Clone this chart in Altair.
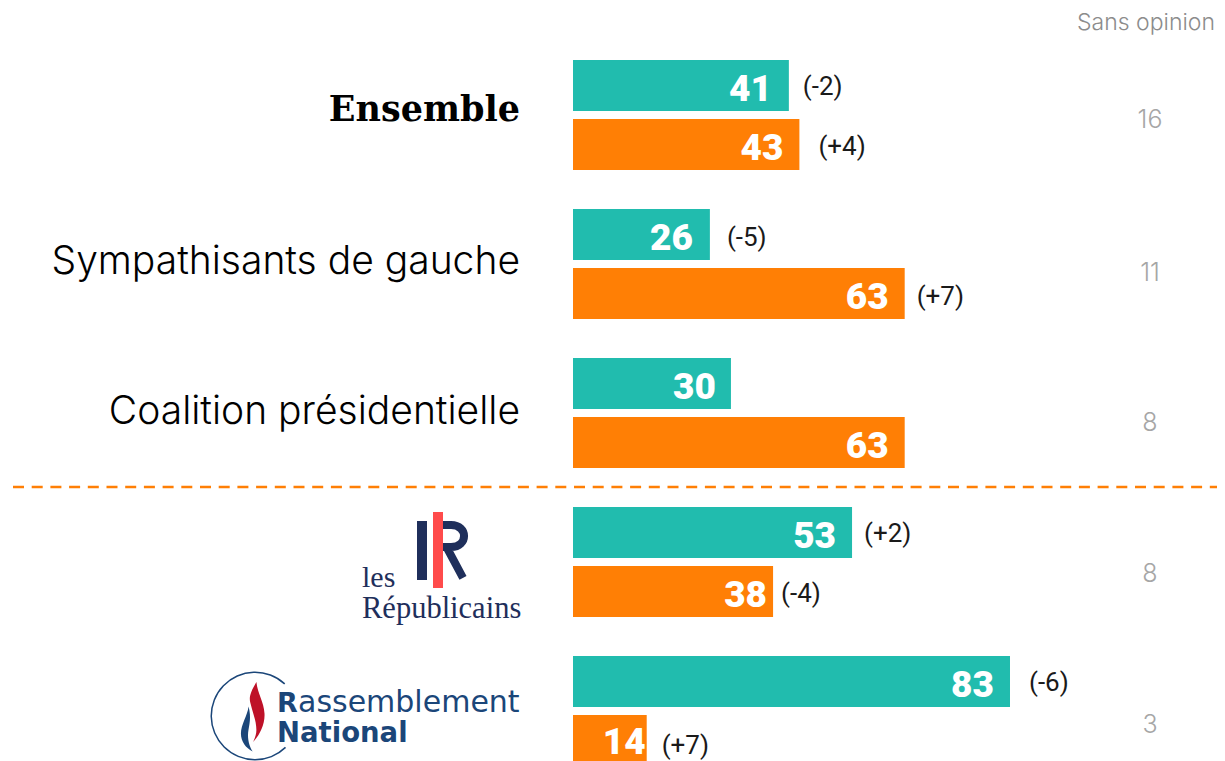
import altair as alt
import pandas as pd

groups = ["Ensemble", "Sympathisants de gauche", "Coalition présidentielle", "Les Républicains", "Rassemblement National"]
series_a = [41, 26, 30, 53, 83]
series_b = [43, 63, 63, 38, 14]
delta_a = ["(-2)", "(-5)", "", "(+2)", "(-6)"]
delta_b = ["(+4)", "(+7)", "", "(-4)", "(+7)"]
sans_opinion = [16, 11, 8, 8, 3]
series_names = ["A", "B"]

# Layout: hand offsets per label (pixels), separate from the data
value_dx = {"A": [-17, -17, -15, -16, -16], "B": [-16, -16, -16, -6, -1]}
value_dy = {"A": [4, 4, 4, 4, 4], "B": [4, 4, 4, 4, 2]}
delta_dx = {"A": [14, 17, 0, 12, 19], "B": [19, 12, 0, 8, 15]}
delta_dy = {"A": [1, 3, 0, 1, 1], "B": [2, 3, 0, 2, 5]}
sans_dy = [5, 9, 10, 12, 14]
label_dy = [-5, -2, -1]

TEAL, ORANGE = "#21BCAE", "#FF7F05"
W, H = 1209, 753
PX = 5.265
x0 = -565 / PX
xscale = alt.Scale(domain=[x0, x0 + W / PX], zero=False, nice=False)
yscale = alt.Scale(domain=groups, range=[32.5, 777.5], paddingInner=0, paddingOuter=0)
offscale = alt.Scale(domain=series_names, paddingInner=8 / 59, paddingOuter=19.5 / 59)

rows = []
for i, g in enumerate(groups):
    for s, vals, dl in (("A", series_a, delta_a), ("B", series_b, delta_b)):
        rows.append(dict(group=g, idx=i, serie=s, value=vals[i], delta=dl[i], so=sans_opinion[i]))
df = pd.DataFrame(rows)

X = alt.X("value:Q", scale=xscale, axis=None)
Y = alt.Y("group:N", scale=yscale, axis=None, sort=groups)
YO = alt.YOffset("serie:N", scale=offscale, sort=series_names)

layers = []
layers.append(
    alt.Chart(df).mark_bar().encode(
        x=X, y=Y, yOffset=YO,
        color=alt.Color("serie:N", scale=alt.Scale(domain=series_names, range=[TEAL, ORANGE]), legend=None),
    )
)

for r in rows:
    i, s = r["idx"], r["serie"]
    sub = alt.Chart(df).transform_filter(f"datum.idx=={i} && datum.serie=='{s}'")
    layers.append(
        sub.mark_text(align="right", baseline="middle", font="Roboto", fontWeight=900, fontSize=37,
                      color="white", dx=value_dx[s][i], dy=value_dy[s][i]).encode(
            x=X, y=Y, yOffset=YO, text="value:Q")
    )
    if r["delta"]:
        layers.append(
            sub.mark_text(align="left", baseline="middle", font="Roboto", fontSize=26,
                          color="#1a1a1a", dx=delta_dx[s][i], dy=delta_dy[s][i]).encode(
                x=X, y=Y, yOffset=YO, text="delta:N")
        )

first = df[df.serie == "A"]
for i in range(3):
    sub = alt.Chart(first).transform_filter(f"datum.idx=={i}")
    style = dict(font="DejaVu Serif", fontWeight="bold", fontSize=35) if i == 0 else dict(font="Inter", fontWeight=300, fontSize=39)
    layers.append(
        sub.mark_text(align="right", baseline="middle", color="#000000", dx=-53, dy=label_dy[i], **style).encode(
            x=alt.datum(0, scale=xscale), y=Y, text="group:N")
    )

for i in range(5):
    sub = alt.Chart(first).transform_filter(f"datum.idx=={i}")
    layers.append(
        sub.mark_text(align="center", baseline="middle", font="Inter", fontWeight=300, fontSize=25, color="#A6A6A6",
                      dy=sans_dy[i]).encode(x=alt.value(1142), y=Y, text="so:Q")
    )

title_df = pd.DataFrame({"t": ["Sans opinion"]})
layers.append(
    alt.Chart(title_df).mark_text(align="right", baseline="middle", font="Inter", fontWeight=300, fontSize=23, color="#8C8C8C").encode(
        x=alt.value(1207), y=alt.value(15), text="t:N")
)

# dashed separator
layers.append(
    alt.Chart(title_df).mark_rule(color=ORANGE, strokeWidth=2.5, strokeDash=[11, 7.7]).encode(
        x=alt.value(5), x2=alt.value(1209), y=alt.value(479))
)

# ----- Les Républicains logo -----
NAVY = "#1F2F5B"
def txt(s, x, y, **kw):
    return alt.Chart(pd.DataFrame({"t": [s]})).mark_text(baseline="alphabetic", align="left", **kw).encode(
        x=alt.value(x), y=alt.value(y), text="t:N")
def bar(x1, x2, y1, y2, color):
    return alt.Chart(title_df).mark_rect(color=color).encode(
        x=alt.value(x1), x2=alt.value(x2), y=alt.value(y1), y2=alt.value(y2))

layers.append(txt("les", 354, 579, font="Liberation Serif", fontSize=30, color=NAVY))
layers.append(txt("Républicains", 354, 610, font="Liberation Serif", fontSize=30.5, color=NAVY))
layers.append(bar(409, 419, 513, 572, NAVY))
r_logo = "M-0.4,-0.83 L0.2,-0.83 C0.78,-0.83 0.78,-0.1 0.2,-0.1 L-0.4,-0.1 M0.05,-0.1 L0.6,0.93"
layers.append(
    alt.Chart(title_df).mark_point(shape=r_logo, filled=False, opacity=1, size=3600, color=NAVY, strokeWidth=8).encode(
        x=alt.value(437), y=alt.value(542))
)
layers.append(bar(425, 435, 504, 580, "#FF4B4B"))

# ----- Rassemblement National logo -----
BLUE = "#1B4679"
layers.append(
    alt.Chart(title_df).mark_arc(radius=44.5, radius2=43, theta=2.37, theta2=7.03, color=BLUE).encode(
        x=alt.value(247), y=alt.value(708))
)
red_flame = "M-0.02,-1 C-0.2,-0.7 -0.28,-0.5 -0.22,-0.3 C-0.15,0 -0.02,0.3 -0.02,0.6 C-0.02,0.75 -0.08,0.9 -0.13,1 C0.1,0.75 0.27,0.4 0.25,0.05 C0.23,-0.35 0.02,-0.6 -0.02,-1 Z"
blue_flame = "M0.07,-1 C0.02,-0.6 -0.27,-0.2 -0.27,0.2 C-0.27,0.55 -0.05,0.85 0.25,1 C0.1,0.75 0.02,0.45 0.05,0.15 C0.1,-0.2 0.2,-0.5 0.07,-1 Z"
layers.append(
    alt.Chart(title_df).mark_point(shape=red_flame, filled=True, opacity=1, size=3600, color="#BE1128", strokeWidth=0).encode(
        x=alt.value(249), y=alt.value(704))
)
layers.append(
    alt.Chart(title_df).mark_point(shape=blue_flame, filled=True, opacity=1, size=2025, color=BLUE, strokeWidth=0).encode(
        x=alt.value(239), y=alt.value(721))
)
layers.append(txt("R", 269, 704, font="DejaVu Sans", fontWeight="bold", fontSize=27, color=BLUE))
layers.append(txt("assemblement", 290, 704, font="DejaVu Sans", fontSize=30, color=BLUE))
layers.append(txt("National", 269, 734, font="DejaVu Sans", fontWeight="bold", fontSize=27.5, color=BLUE))

chart = alt.layer(*layers).properties(
    width=W, height=H, padding=0, autosize=alt.AutoSizeParams(type="none")
).configure_view(stroke=None)

chart.save("out.html", embed_options={"renderer": "svg", "actions": False})
